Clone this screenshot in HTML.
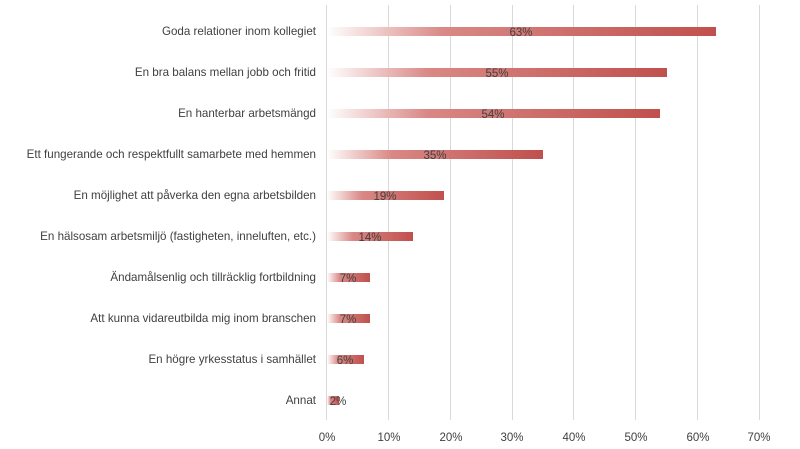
<!DOCTYPE html><html><head><style>body{margin:0;background:#fff}svg{display:block}text{font-family:"Liberation Sans",sans-serif;fill:#404040}</style></head><body>
<svg width="800" height="449" viewBox="0 0 800 449">
<defs><linearGradient id="g" x1="0" x2="1" y1="0" y2="0"><stop offset="0" stop-color="#fff"/><stop offset="0.3" stop-color="#d98885"/><stop offset="1" stop-color="#c0504d"/></linearGradient></defs>
<g stroke="#d9d9d9" stroke-width="1">
<line x1="326.5" y1="5" x2="326.5" y2="420"/><line x1="388.5" y1="5" x2="388.5" y2="420"/><line x1="450.5" y1="5" x2="450.5" y2="420"/><line x1="512.5" y1="5" x2="512.5" y2="420"/><line x1="573.5" y1="5" x2="573.5" y2="420"/><line x1="635.5" y1="5" x2="635.5" y2="420"/><line x1="697.5" y1="5" x2="697.5" y2="420"/><line x1="759.5" y1="5" x2="759.5" y2="420"/>
</g>
<g font-size="11.5" text-anchor="middle">
<text x="327" y="441">0%</text><text x="389" y="441">10%</text><text x="451" y="441">20%</text><text x="512" y="441">30%</text><text x="574" y="441">40%</text><text x="636" y="441">50%</text><text x="698" y="441">60%</text><text x="759" y="441">70%</text>
</g>
<g font-size="11.6" text-anchor="end">
<text x="316" y="35">Goda relationer inom kollegiet</text>
<text x="316" y="76">En bra balans mellan jobb och fritid</text>
<text x="316" y="117">En hanterbar arbetsmängd</text>
<text x="316" y="158">Ett fungerande och respektfullt samarbete med hemmen</text>
<text x="316" y="199">En möjlighet att påverka den egna arbetsbilden</text>
<text x="316" y="240">En hälsosam arbetsmiljö (fastigheten, inneluften, etc.)</text>
<text x="316" y="281">Ändamålsenlig och tillräcklig fortbildning</text>
<text x="316" y="322">Att kunna vidareutbilda mig inom branschen</text>
<text x="316" y="363">En högre yrkesstatus i samhället</text>
<text x="316" y="404">Annat</text>
</g>
<g fill="url(#g)">
<rect x="327" y="27" width="389" height="9"/>
<rect x="327" y="68" width="340" height="9"/>
<rect x="327" y="109" width="333" height="9"/>
<rect x="327" y="150" width="216" height="9"/>
<rect x="327" y="191" width="117" height="9"/>
<rect x="327" y="232" width="86" height="9"/>
<rect x="327" y="273" width="43" height="9"/>
<rect x="327" y="314" width="43" height="9"/>
<rect x="327" y="355" width="37" height="9"/>
<rect x="327" y="396" width="12" height="9"/>
</g>
<g font-size="11.5" text-anchor="middle">
<text x="521" y="36">63%</text><text x="497" y="77">55%</text><text x="493" y="118">54%</text><text x="435" y="159">35%</text><text x="385" y="200">19%</text><text x="370" y="241">14%</text><text x="348" y="282">7%</text><text x="348" y="323">7%</text><text x="345" y="364">6%</text><text x="338" y="405">2%</text>
</g>
</svg></body></html>
